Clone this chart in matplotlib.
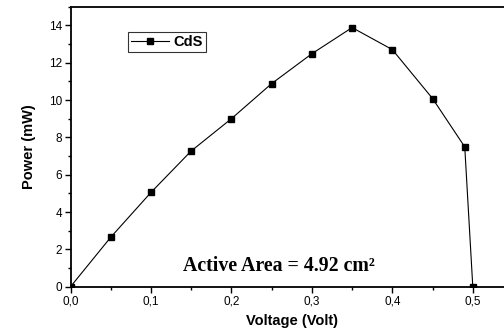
import matplotlib
matplotlib.use('Agg')
import matplotlib.pyplot as plt
from matplotlib.ticker import MultipleLocator, FuncFormatter

# CdS cell power curve
voltage = [0.0, 0.05, 0.10, 0.15, 0.20, 0.25, 0.30, 0.35, 0.40, 0.45, 0.49, 0.50]
power   = [0.0, 2.65, 5.05, 7.27, 9.00, 10.88, 12.48, 13.88, 12.70, 10.08, 7.49, 0.0]

plt.rcParams['font.family'] = ['Liberation Sans', 'DejaVu Sans']

fig = plt.figure(figsize=(5.04, 3.34), dpi=100, facecolor='white')
ax = fig.add_axes([0.1399, 0.1416, 0.878, 0.8384])

ax.plot(voltage, power, color='black', lw=0.8, marker='s', ms=4.5,
        markerfacecolor='black', markeredgecolor='black', label='CdS')

ax.set_xlim(0, 0.55)
ax.set_ylim(0, 15)
ax.xaxis.set_major_locator(MultipleLocator(0.1))
ax.xaxis.set_minor_locator(MultipleLocator(0.05))
ax.yaxis.set_major_locator(MultipleLocator(2))
ax.yaxis.set_minor_locator(MultipleLocator(1))
ax.xaxis.set_major_formatter(FuncFormatter(lambda v, p: f'{v:.1f}'.replace('.', ',')))
ax.yaxis.set_major_formatter(FuncFormatter(lambda v, p: f'{v:.0f}'))

ax.tick_params(which='major', direction='out', length=4, width=1, labelsize=8.5, pad=2)
ax.tick_params(which='minor', direction='out', length=2.5, width=1)
for s in ax.spines.values():
    s.set_linewidth(1.3)

ax.set_xlabel('Voltage (Volt)', fontsize=10.5, fontweight='bold', labelpad=5)
ax.set_ylabel('Power (mW)', fontsize=10.5, fontweight='bold', labelpad=9)

leg = ax.legend(loc='upper left', bbox_to_anchor=(0.114, 0.935),
                prop={'weight': 'bold', 'size': 10.5}, handlelength=2.6,
                frameon=True, fancybox=False, borderpad=0.2, handletextpad=0.3)
leg.get_frame().set_edgecolor('black')
leg.get_frame().set_linewidth(0.8)

ax.text(0.2585, 1.1, 'Active Area = 4.92 cm²', ha='center', va='center',
        fontsize=14.3, fontweight='bold', family='Liberation Serif')

fig.savefig('out.png', dpi=100)
